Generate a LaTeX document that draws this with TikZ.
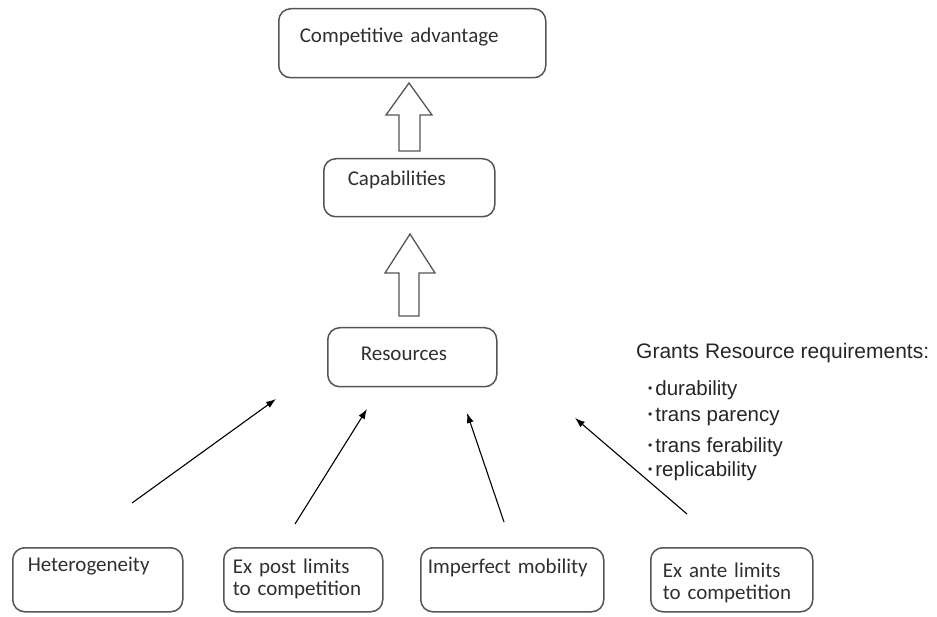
\documentclass[tikz,border=0pt]{standalone}
\usepackage{fontspec}
\newfontfamily\boxfont{Carlito}
\newfontfamily\listfont{Liberation Sans}
\usepackage{tikz}
\usetikzlibrary{arrows.meta}
\definecolor{boxline}{HTML}{555555}
\definecolor{boxtext}{HTML}{2F2F2F}
\definecolor{listtext}{HTML}{262626}

\begin{document}
\begin{tikzpicture}[x=1pt,y=-1pt,
  box/.style={draw=boxline,line width=1.5pt,rounded corners=12pt,anchor=north west,
    inner ysep=0pt,align=left,text=boxtext,font=\boxfont\fontsize{21}{22}\selectfont},
  hollow/.style={draw=boxline,line width=1.3pt,fill=white},
  thin/.style={-{Latex[length=10pt,width=7pt]},line width=1.1pt},
  req/.style={anchor=west,inner sep=0pt,text=listtext,font=\listfont\fontsize{20.5}{24}\selectfont}]
\useasboundingbox (0,0) rectangle (937,617);

\node[box,inner xsep=21pt,text width=225pt,text height=34pt,text depth=35pt] (ca) at (278,8) {Competitive advantage};
\node[box,inner xsep=24pt,text width=123pt,text height=27pt,text depth=31pt] (cap) at (323,158) {Capabilities};
\node[box,inner xsep=33pt,text width=103pt,text height=33pt,text depth=26pt] (res) at (327,327) {Resources};

\node[box,inner xsep=15pt,text width=140pt,text height=24pt,text depth=40pt] (het) at (12,547) {Heterogeneity};
\node[box,inner xsep=9pt,text width=141pt,text height=26pt,text depth=38pt] (post) at (223,547) {Ex post limits\\to competition};
\node[box,inner xsep=7pt,text width=169pt,text height=26pt,text depth=38pt] (imp) at (420,547) {Imperfect mobility};
\node[box,inner xsep=12pt,text width=138pt,text height=30pt,text depth=34pt] (ante) at (650,547) {Ex ante limits\\to competition};

% hollow arrows
\draw[hollow] (399,151) -- (399,115) -- (386,115) -- (409,83) -- (432,115) -- (420,115) -- (420,151) -- cycle;
\draw[hollow] (399,316) -- (399,273) -- (385,273) -- (410,234) -- (435,273) -- (419,273) -- (419,316) -- cycle;

% thin arrows
\coordinate (het-t) at (132,503);
\coordinate (het-h) at (276,399);
\coordinate (post-t) at (295,524);
\coordinate (post-h) at (367,409);
\coordinate (imp-t) at (504,522);
\coordinate (imp-h) at (467,413);
\coordinate (ante-t) at (687,514);
\coordinate (ante-h) at (575,418);
\draw[thin] (het-t) -- (het-h);
\draw[thin] (post-t) -- (post-h);
\draw[thin] (imp-t) -- (imp-h);
\draw[thin] (ante-t) -- (ante-h);

\node[req,font=\listfont\fontsize{21}{24}\selectfont] (grants) at (636,353) {Grants Resource requirements:};
\foreach \y/\w [count=\i] in {390/durability,417/trans parency,447/trans ferability,471/replicability}
  \node[req] (req\i) at (648,\y) {\raisebox{2.5pt}{\fontsize{12}{12}\selectfont •}\hspace{3pt}\w};
\end{tikzpicture}
\end{document}
